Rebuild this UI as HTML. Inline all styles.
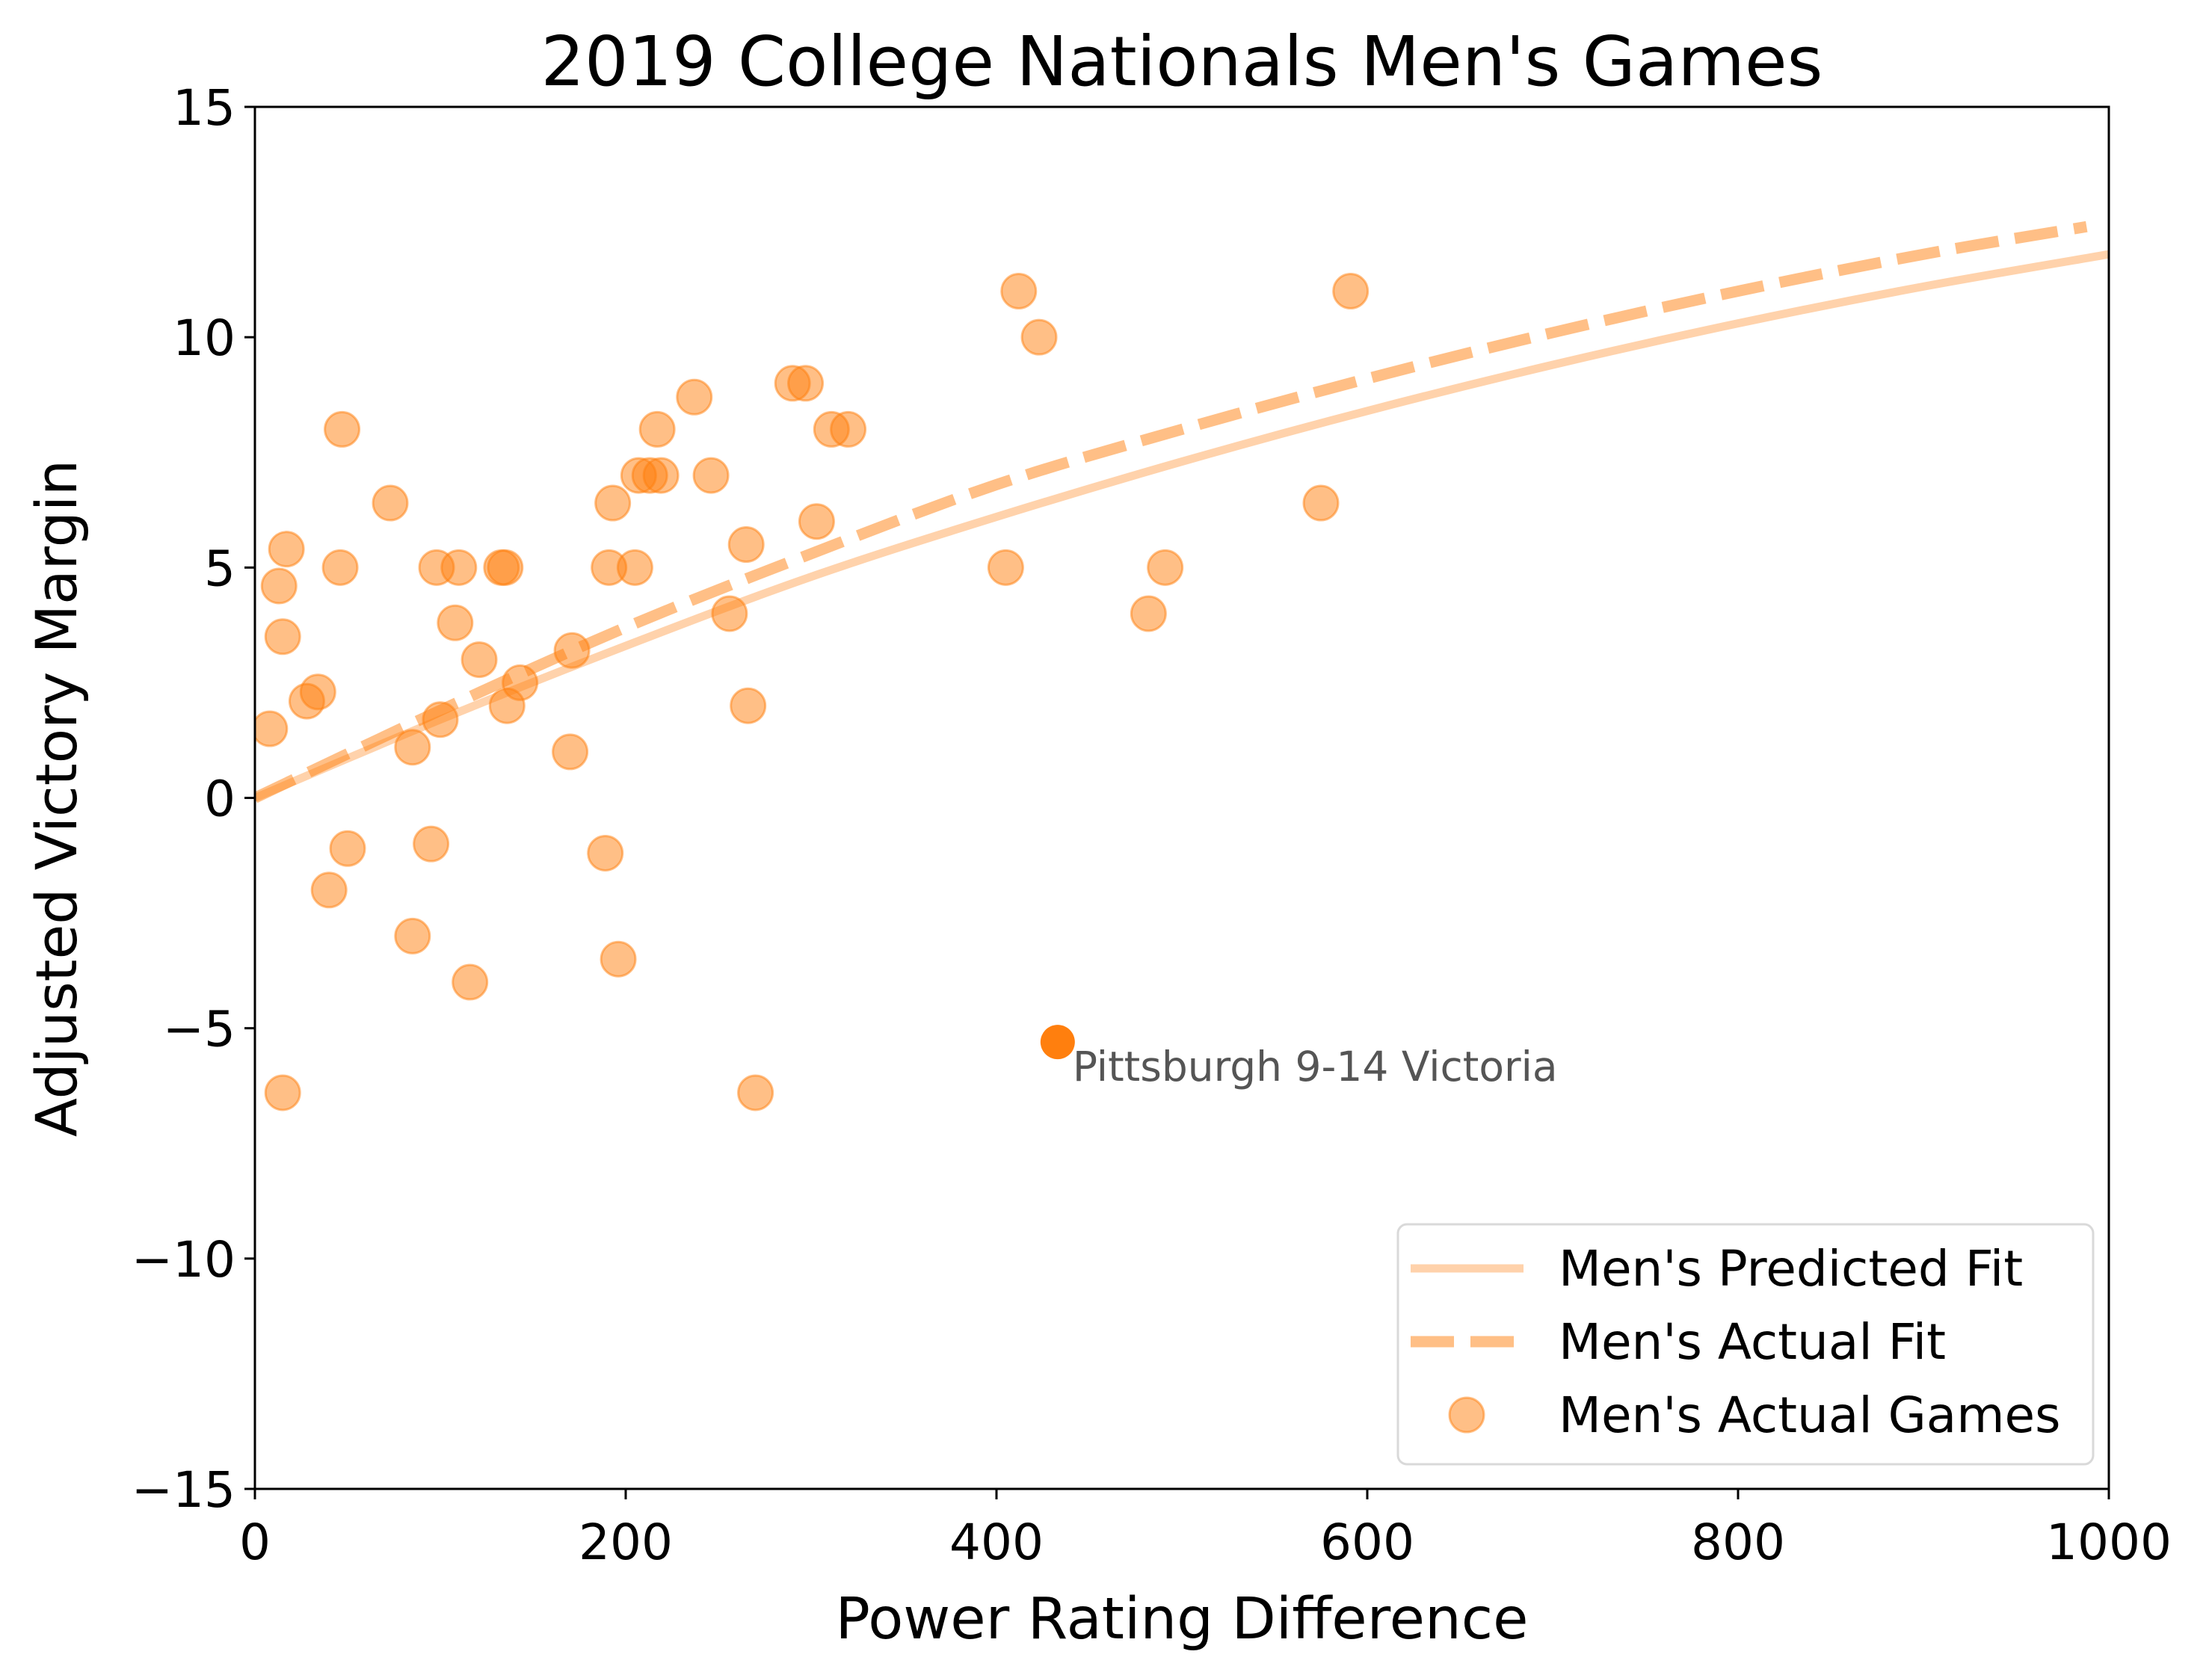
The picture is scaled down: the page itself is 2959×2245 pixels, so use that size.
<!DOCTYPE html>
<html><head><meta charset="utf-8"><style>
html,body{margin:0;padding:0;background:#fff;}
svg{display:block;font-family:"DejaVu Sans","Liberation Sans",sans-serif;}
</style></head><body>
<svg id="chart" width="2959" height="2245" viewBox="0 0 2959 2245" xmlns="http://www.w3.org/2000/svg">
<rect width="2959" height="2245" fill="#fff"/>
<text x="1581" y="114" font-size="92" text-anchor="middle">2019 College Nationals Men's Games</text>
<g id="plot"></g>
<g id="axes"></g>
<text x="1581" y="2192" font-size="77" text-anchor="middle">Power Rating Difference</text>
<text x="0" y="0" font-size="76" text-anchor="middle" transform="translate(102,1068) rotate(-90)">Adjusted Victory Margin</text>
</svg>
<script>
const fitX = [0,100,200,300,400,500,600,700,800,900,1000];
const predictedFit = [0,1.7,3.3,4.8,6.1,7.3,8.4,9.4,10.3,11.1,11.8];
const actualFitX = [0,100,200,300,400,500,600,700,800,900,988];
const actualFit = [0,1.9,3.7,5.3,6.8,8.0,9.1,10.1,11.0,11.8,12.4];
const gameX = [8,13,15,15,17,28,34,40,46,47,50,73,85,85,95,98,100,108,110,116,121,133,135,136,143,170,171,189,191,193,196,205,207,213,217,219,237,246,256,265,266,270,290,297,303,311,320,405,412,423,482,491,575,591];
const gameY = [1.5,4.6,-6.4,3.5,5.4,2.1,2.3,-2,5,8,-1.1,6.4,1.1,-3,-1,5,1.7,3.8,5,-4,3,5,5,2,2.5,1,3.2,-1.2,5,6.4,-3.5,5,7,7,8,7,8.7,7,4,5.5,2,-6.4,9,9,6,8,8,5,11,10,4,5,6.4,11];
const highlight = [433,-5.3];
const highlightLabel = "Pittsburgh 9-14 Victoria";
const xTicks = [0,200,400,600,800,1000];
const yTicks = [-15,-10,-5,0,5,10,15];

const NS="http://www.w3.org/2000/svg";
const X0=341,X1=2821,Y0=1992,Y1=143;
const sx=v=>X0+(v-0)/1000*(X1-X0);
const sy=v=>Y0-(v+15)/30*(Y0-Y1);
function mk(tag,attrs,parent){const e=document.createElementNS(NS,tag);for(const k in attrs)e.setAttribute(k,attrs[k]);parent.appendChild(e);return e;}
function smooth(xs,ys){
 const P=xs.map((x,i)=>[sx(x),sy(ys[i])]);
 let d='M'+P[0][0]+','+P[0][1];
 for(let i=0;i<P.length-1;i++){
  const p0=P[Math.max(0,i-1)],p1=P[i],p2=P[i+1],p3=P[Math.min(P.length-1,i+2)];
  const c1=[p1[0]+(p2[0]-p0[0])/6,p1[1]+(p2[1]-p0[1])/6];
  const c2=[p2[0]-(p3[0]-p1[0])/6,p2[1]-(p3[1]-p1[1])/6];
  d+=' C'+c1[0]+','+c1[1]+' '+c2[0]+','+c2[1]+' '+p2[0]+','+p2[1];
 }
 return d;
}
const plot=document.getElementById('plot');
const axes=document.getElementById('axes');
const svg=document.getElementById('chart');
const clip=mk('clipPath',{id:'clip'},svg);mk('rect',{x:X0,y:Y1,width:X1-X0,height:Y0-Y1},clip);
plot.setAttribute('clip-path','url(#clip)');

let p1=mk('path',{d:smooth(fitX,predictedFit),fill:'none',stroke:'#ff7f0e','stroke-opacity':0.35,'stroke-width':11},plot);


let p2=mk('path',{d:smooth(actualFitX,actualFit),fill:'none',stroke:'#ff7f0e','stroke-opacity':0.5,'stroke-width':15,'stroke-dasharray':'58,22'},plot);


gameX.forEach((x,i)=>{
 const c=mk('circle',{cx:sx(x),cy:sy(gameY[i]),r:23,fill:'#ff7f0e','fill-opacity':0.5,stroke:'#ff7f0e','stroke-opacity':0.5,'stroke-width':3},plot);
 
 
});
const hc=mk('circle',{cx:sx(highlight[0]),cy:sy(highlight[1]),r:23,fill:'#ff7f0e'},plot);


const ht=mk('text',{x:sx(highlight[0])+20,y:sy(highlight[1])+52,'font-size':55,fill:'#555'},svg);
ht.textContent=highlightLabel;



mk('rect',{x:X0,y:Y1,width:X1-X0,height:Y0-Y1,fill:'none',stroke:'#000','stroke-width':3},axes);
xTicks.forEach(v=>{
 mk('line',{x1:sx(v),x2:sx(v),y1:Y0,y2:Y0+14,stroke:'#000','stroke-width':3},axes);
 const t=mk('text',{x:sx(v),y:Y0+94,'font-size':66,'text-anchor':'middle'},axes);t.textContent=v;
 
 
});
yTicks.forEach(v=>{
 mk('line',{x1:X0-14,x2:X0,y1:sy(v),y2:sy(v),stroke:'#000','stroke-width':3},axes);
 const t=mk('text',{x:X0-26,y:sy(v)+24,'font-size':66,'text-anchor':'end'},axes);t.textContent=(v<0?'\u2212'+(-v):v);
 
 
});

const lg=mk('g',{},svg);


mk('rect',{x:1870,y:1638,width:930,height:321,rx:12,fill:'#fff','fill-opacity':0.8,stroke:'#d9d9d9','stroke-width':3},lg);
mk('line',{x1:1887,x2:2038,y1:1697,y2:1697,stroke:'#ff7f0e','stroke-opacity':0.35,'stroke-width':11},lg);
mk('line',{x1:1887,x2:2038,y1:1795,y2:1795,stroke:'#ff7f0e','stroke-opacity':0.5,'stroke-width':15,'stroke-dasharray':'58,22'},lg);
mk('circle',{cx:1962,cy:1893,r:23,fill:'#ff7f0e','fill-opacity':0.5,stroke:'#ff7f0e','stroke-opacity':0.5,'stroke-width':3},lg);
["Men's Predicted Fit","Men's Actual Fit","Men's Actual Games"].forEach((s,i)=>{
 const t=mk('text',{x:2085,y:1720+i*98,'font-size':66},lg);t.textContent=s;
 
 
});
</script>
</body></html>
